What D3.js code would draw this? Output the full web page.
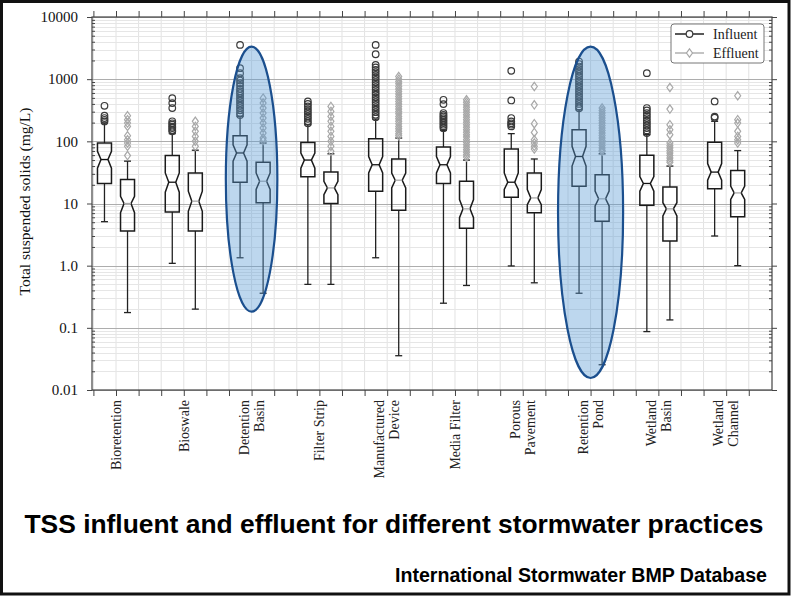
<!DOCTYPE html>
<html lang="en">
<head>
  <meta charset="utf-8"/>
  <title>TSS influent and effluent</title>
  <script src="https://d3js.org/d3.v7.min.js"></script>
  <style>
    html, body { margin: 0; padding: 0; background: #fff; }
    svg { display: block; }
    .serif { font-family: "Liberation Serif", "DejaVu Serif", serif; }
    .sans { font-family: "Liberation Sans", Arial, sans-serif; }
  </style>
</head>
<body>
<svg id="chart" width="791" height="597"></svg>
<script>
  // practices along the x axis, with their line breaks as printed
  const categories = ["Bioretention", "Bioswale", "Detention Basin", "Filter Strip", "Manufactured Device",
    "Media Filter", "Porous Pavement", "Retention Pond", "Wetland Basin", "Wetland Channel"];
  const categoryLines = [["Bioretention"], ["Bioswale"], ["Detention", "Basin"], ["Filter Strip"],
    ["Manufactured", "Device"], ["Media Filter"], ["Porous", "Pavement"], ["Retention", "Pond"],
    ["Wetland", "Basin"], ["Wetland", "Channel"]];

  // influent box stats (mg/L)
  const infLow     = [5.1, 1.09, 1.34, 0.50, 1.34, 0.249, 0.99, 0.36, 0.087, 3.0];
  const infQ1      = [21, 7.3, 22, 27, 15.8, 21, 12.6, 19, 9.4, 17.2];
  const infNotchLo = [37, 15.2, 48, 37, 31, 31, 16.8, 40, 15.8, 23.7];
  const infMed     = [51, 22, 65, 50, 42, 42, 22, 57, 21, 32];
  const infNotchHi = [69, 31, 88, 65, 57, 57, 31, 83, 27, 44];
  const infQ3      = [94, 59, 123, 96, 110, 81, 75, 154, 60, 97];
  const infHigh    = [197, 133, 252, 185, 228, 150, 133, 322, 128, 210];
  const infOutliers = [
    [373, 258, 237, 222, 209],
    [495, 412, 343, 210, 195, 185, 172, 164, 152, 145],
    [3556, 1500, 1250, 1040, 950, 862, 780, 700, 640, 596, 540, 495, 450, 412, 375, 343, 315, 285, 265],
    [438, 400, 364, 330, 303, 275, 252, 230, 210, 195],
    [3556, 2518, 1698, 1550, 1410, 1290, 1170, 1070, 975, 890, 811, 740, 674, 615, 561, 510, 466, 425, 387, 353, 322, 294, 268, 245],
    [466, 397, 285, 265, 252, 237, 223, 210, 197, 185, 174, 163],
    [1360, 455, 237, 209, 195, 185, 174],
    [1920, 1750, 1596, 1450, 1327, 1210, 1104, 1005, 918, 835, 762, 695, 634, 578, 527, 480, 438, 400, 364, 340],
    [1250, 343, 315, 285, 260, 237, 215, 197, 180, 164, 150, 136],
    [438, 250, 240]
  ];

  // effluent box stats (mg/L)
  const effLow     = [0.176, 0.2, 0.36, 0.5, 0.0356, 0.48, 0.53, 0.0255, 0.134, 1.0];
  const effQ1      = [3.6, 3.6, 10.3, 10, 7.8, 4.0, 7.1, 5.2, 2.5, 6.1];
  const effNotchLo = [7.1, 7.5, 16.8, 13.9, 17.8, 5.9, 9.6, 9.1, 6.3, 11.6];
  const effMed     = [10, 10.9, 22.8, 17.8, 23.7, 8.2, 12.3, 11.9, 8.2, 14.8];
  const effNotchHi = [13, 15.8, 31, 22.8, 31, 11.6, 16.8, 15.8, 10.3, 19];
  const effQ3      = [24.3, 31, 46, 32, 52, 22.8, 31, 29, 18.5, 34];
  const effHigh    = [48, 72, 94, 63, 113, 50, 52, 63, 40, 71];
  const effOutliers = [
    [258, 223, 197, 174, 123, 106, 94, 83, 59],
    [210, 174, 145, 120, 100, 83],
    [495, 412, 343, 285, 237, 197, 164, 136, 113, 103],
    [364, 303, 252, 210, 174, 145, 120, 100, 83, 69],
    [1104, 1000, 918, 840, 762, 695, 634, 578, 527, 480, 438, 400, 364, 332, 303, 277, 252, 230, 210, 192, 174, 159, 145, 133, 123],
    [466, 425, 387, 353, 322, 294, 268, 245, 223, 203, 185, 169, 154, 140, 128, 117, 106, 97, 88, 80, 73, 67, 61, 56],
    [762, 387, 192, 139, 106, 94, 83, 75],
    [343, 312, 285, 260, 237, 216, 197, 180, 164, 150, 136, 124, 113, 103, 94, 86, 78, 72, 69],
    [735, 330, 185, 154, 128, 94, 85, 78, 71, 65, 59, 54, 49, 46],
    [541, 223, 197, 145, 120, 106, 94]
  ];

  // highlighted practices (ellipse extents in mg/L, half width in category units)
  const highlight = ["Detention Basin", "Retention Pond"];
  const highlightTop = [3330, 3330];
  const highlightBottom = [0.182, 0.0156];
  const highlightHalfWidth = [0.38, 0.48];

  const yMajor = [0.01, 0.1, 1, 10, 100, 1000, 10000];
  const yMajorLabels = ["0.01", "0.1", "1.0", "10", "100", "1000", "10000"];
  const seriesNames = ["Influent", "Effluent"];

  const svg = d3.select("#chart");
  const pLeft = 92, pRight = 772, pTop = 17, pBottom = 390;

  const x = d3.scaleLinear().domain([-0.354, 9.676]).range([pLeft, pRight]);
  const y = d3.scaleLog().domain([0.01, 10000]).range([pBottom, pTop]);
  const step = x(1) - x(0);
  const xTicks = d3.range(-1, 30).map(k => k / 3).filter(v => x(v) > pLeft + 1 && x(v) < pRight - 1);
  const yMinor = y.ticks().filter(d => !yMajor.includes(d));

  // grid
  const grid = svg.append("g");
  grid.selectAll(".vg").data(xTicks).enter().append("line")
    .attr("x1", d => x(d)).attr("x2", d => x(d))
    .attr("y1", pTop).attr("y2", pBottom)
    .attr("stroke", "#e2e2e2").attr("stroke-width", 1);
  grid.selectAll(".hg").data(y.ticks()).enter().append("line")
    .attr("x1", pLeft).attr("x2", pRight)
    .attr("y1", d => Math.round(y(d)) + 0.5).attr("y2", d => Math.round(y(d)) + 0.5)
    .attr("stroke", d => yMajor.includes(d) ? "#adadad" : "#e6e6e6")
    .attr("stroke-width", 1);

  // axes
  const axisColor = "#444";
  const styleAxis = g => {
    g.select(".domain").remove();
    g.selectAll(".tick line").attr("stroke", axisColor);
  };
  svg.append("g").attr("transform", `translate(${pLeft},0)`)
    .call(d3.axisLeft(y).tickValues(yMajor).tickSize(5)
      .tickFormat((d, i) => yMajorLabels[i]).tickPadding(9))
    .call(styleAxis)
    .call(g => g.selectAll("text").attr("class", "serif").attr("font-size", 15).attr("fill", "#111"));
  svg.append("g").attr("transform", `translate(${pLeft},0)`)
    .call(d3.axisLeft(y).tickValues(yMinor).tickSize(-3).tickFormat(""))
    .call(styleAxis);
  svg.append("g").attr("transform", `translate(${pRight},0)`)
    .call(d3.axisRight(y).tickValues(yMajor).tickSize(5).tickFormat(""))
    .call(styleAxis);
  svg.append("g").attr("transform", `translate(${pRight},0)`)
    .call(d3.axisRight(y).tickValues(yMinor).tickSize(-3).tickFormat(""))
    .call(styleAxis);
  svg.append("g").attr("transform", `translate(0,${pBottom})`)
    .call(d3.axisBottom(x).tickValues(xTicks).tickSize(6).tickFormat(""))
    .call(styleAxis);
  svg.append("g").attr("transform", `translate(0,${pTop})`)
    .call(d3.axisTop(x).tickValues(xTicks).tickSize(6).tickFormat(""))
    .call(styleAxis);

  svg.append("rect")
    .attr("x", pLeft).attr("y", pTop).attr("width", pRight - pLeft).attr("height", pBottom - pTop)
    .attr("fill", "none").attr("stroke", axisColor).attr("stroke-width", 1.2);

  // boxes
  const series = [
    { name: "Influent", off: -0.17, low: infLow, q1: infQ1, nlo: infNotchLo, med: infMed, nhi: infNotchHi,
      q3: infQ3, high: infHigh, out: infOutliers, medColor: "#111", outColor: "#3a3a3a", marker: "circle" },
    { name: "Effluent", off: 0.17, low: effLow, q1: effQ1, nlo: effNotchLo, med: effMed, nhi: effNotchHi,
      q3: effQ3, high: effHigh, out: effOutliers, medColor: "#aaa", outColor: "#a8a8a8", marker: "diamond" }
  ];
  const hw = 7, inset = 3.5;
  const boxes = svg.append("g");

  series.forEach(s => {
    categories.forEach((c, i) => {
      const cx = x(i + s.off);
      const xl = cx - hw, xr = cx + hw;
      const g = boxes.append("g");

      g.append("line").attr("x1", cx).attr("x2", cx).attr("y1", y(s.q1[i])).attr("y2", y(s.low[i]))
        .attr("stroke", "#222").attr("stroke-width", 1.3);
      g.append("line").attr("x1", cx).attr("x2", cx).attr("y1", y(s.q3[i])).attr("y2", y(s.high[i]))
        .attr("stroke", "#222").attr("stroke-width", 1.3);
      [s.low[i], s.high[i]].forEach(v => {
        g.append("line").attr("x1", cx - 3.5).attr("x2", cx + 3.5).attr("y1", y(v)).attr("y2", y(v))
          .attr("stroke", "#222").attr("stroke-width", 1.3);
      });

      const pts = [
        [xl, y(s.q1[i])], [xr, y(s.q1[i])], [xr, y(s.nlo[i])], [xr - inset, y(s.med[i])],
        [xr, y(s.nhi[i])], [xr, y(s.q3[i])], [xl, y(s.q3[i])], [xl, y(s.nhi[i])],
        [xl + inset, y(s.med[i])], [xl, y(s.nlo[i])]
      ];
      g.append("path").attr("d", d3.line()(pts) + "Z")
        .attr("fill", "none").attr("stroke", "#1a1a1a").attr("stroke-width", 1.5)
        .attr("stroke-linejoin", "miter");
      g.append("line").attr("x1", xl + inset).attr("x2", xr - inset)
        .attr("y1", y(s.med[i])).attr("y2", y(s.med[i]))
        .attr("stroke", s.medColor).attr("stroke-width", 1.3);

      s.out[i].forEach(v => {
        if (s.marker === "circle") {
          g.append("circle").attr("cx", cx).attr("cy", y(v)).attr("r", 3.3)
            .attr("fill", "none").attr("stroke", s.outColor).attr("stroke-width", 1.2);
        } else {
          const cy = y(v);
          g.append("path").attr("d", `M${cx},${cy - 4.2}L${cx + 3},${cy}L${cx},${cy + 4.2}L${cx - 3},${cy}Z`)
            .attr("fill", "none").attr("stroke", s.outColor).attr("stroke-width", 1.2);
        }
      });
    });
  });

  // highlight ellipses drawn over the boxes
  highlight.forEach((h, j) => {
    const i = categories.indexOf(h);
    const yt = y(highlightTop[j]), yb = y(highlightBottom[j]);
    svg.append("ellipse")
      .attr("cx", x(i)).attr("cy", (yt + yb) / 2)
      .attr("rx", highlightHalfWidth[j] * step).attr("ry", (yb - yt) / 2)
      .attr("fill", "#5b9bd5").attr("fill-opacity", 0.4)
      .attr("stroke", "#1b4f8e").attr("stroke-width", 2.2);
  });

  // category labels
  const labels = svg.append("g").attr("class", "serif").attr("font-size", 14).attr("fill", "#222");
  categoryLines.forEach((lines, i) => {
    lines.forEach((t, j) => {
      const lx = x(i) + (j - (lines.length - 1) / 2) * 15 + 4.8;
      labels.append("text")
        .attr("transform", `translate(${lx},400) rotate(-90)`)
        .attr("text-anchor", "end")
        .text(t);
    });
  });

  // y label
  svg.append("text").attr("class", "serif")
    .attr("transform", `translate(30,${(pTop + pBottom) / 2 - 2}) rotate(-90)`)
    .attr("text-anchor", "middle").attr("font-size", 15.5).attr("fill", "#111")
    .text("Total suspended solids (mg/L)");

  // legend
  const lg = svg.append("g").attr("class", "serif");
  lg.append("rect").attr("x", 671).attr("y", 24).attr("width", 93).attr("height", 39).attr("rx", 3)
    .attr("fill", "#fff").attr("stroke", "#777").attr("stroke-width", 1);
  seriesNames.forEach((n, k) => {
    const s = series[k];
    const ly = 34 + k * 19;
    lg.append("line").attr("x1", 675).attr("x2", 704).attr("y1", ly).attr("y2", ly)
      .attr("stroke", k === 0 ? "#222" : "#b0b0b0").attr("stroke-width", 1.5);
    if (s.marker === "circle") {
      lg.append("circle").attr("cx", 689.5).attr("cy", ly).attr("r", 3.3)
        .attr("fill", "#fff").attr("stroke", s.outColor).attr("stroke-width", 1.2);
    } else {
      lg.append("path").attr("d", `M689.5,${ly - 4.2}L692.5,${ly}L689.5,${ly + 4.2}L686.5,${ly}Z`)
        .attr("fill", "#fff").attr("stroke", s.outColor).attr("stroke-width", 1.2);
    }
    lg.append("text").attr("x", 713).attr("y", ly + 4.5).attr("font-size", 14).attr("fill", "#222").text(n);
  });

  // slide title and source
  svg.append("text").attr("class", "sans")
    .attr("x", 394).attr("y", 533).attr("text-anchor", "middle")
    .attr("font-size", 26.4).attr("font-weight", "bold").attr("fill", "#000")
    .text("TSS influent and effluent for different stormwater practices");
  svg.append("text").attr("class", "sans")
    .attr("x", 767).attr("y", 582).attr("text-anchor", "end")
    .attr("font-size", 19.6).attr("font-weight", "bold").attr("fill", "#000")
    .text("International Stormwater BMP Database");

  // slide frame
  svg.append("rect").attr("x", 1.5).attr("y", 1.5).attr("width", 787.5).attr("height", 592.5)
    .attr("fill", "none").attr("stroke", "#111").attr("stroke-width", 3);
</script>
</body>
</html>
